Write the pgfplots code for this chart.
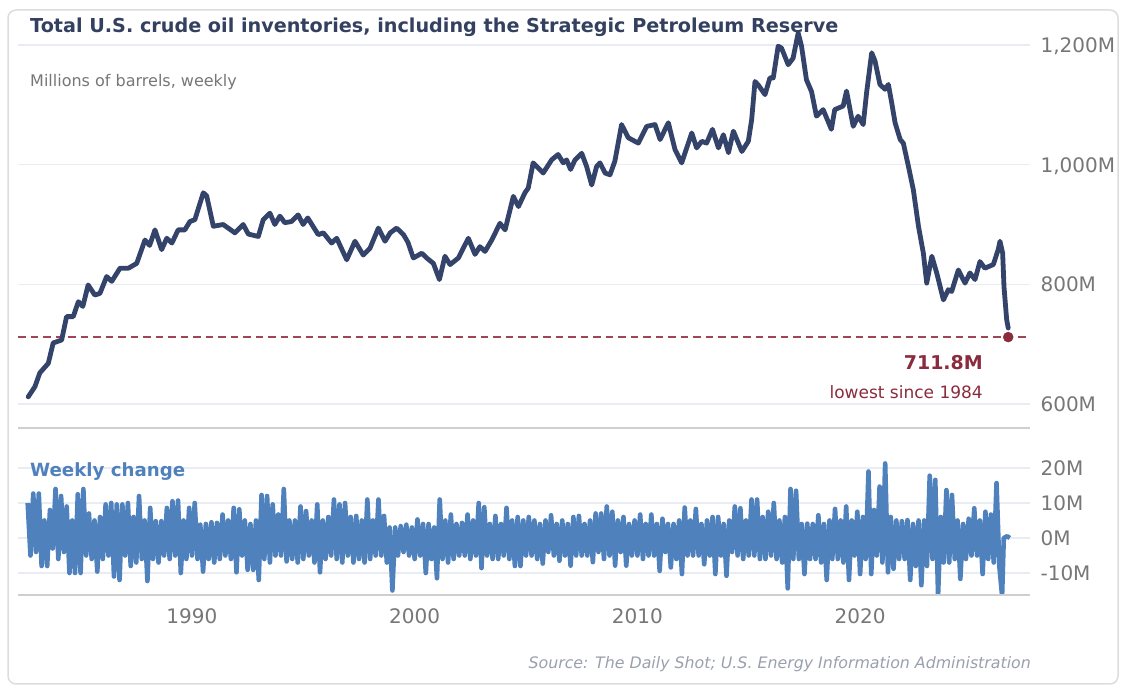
\documentclass[border=0pt]{standalone}
\usepackage{pgfplots}
\pgfplotsset{compat=1.18}
\usepackage{fontspec}
\setmainfont{DejaVu Sans}
\definecolor{navy}{HTML}{34436A}
\definecolor{titlec}{HTML}{344060}
\definecolor{graytxt}{HTML}{777777}
\definecolor{redc}{HTML}{8B2B3E}
\definecolor{redd}{HTML}{A04555}
\definecolor{bluec}{HTML}{4F81BD}
\definecolor{srcc}{HTML}{9AA0AE}
\definecolor{gridc}{HTML}{E9EDF3}
\definecolor{axc}{HTML}{CFCFCF}
\definecolor{cardc}{HTML}{DDDDDD}

\pgfplotstableread{
x y
1982.65 612
1982.95 629
1983.17 652
1983.55 668
1983.77 702
1984.15 707
1984.37 746
1984.67 746
1984.90 771
1985.10 763
1985.34 799
1985.64 782
1985.87 785
1986.17 813
1986.40 805
1986.77 827
1987.15 827
1987.52 835
1987.89 874
1988.10 865
1988.34 891
1988.64 858
1988.87 877
1989.10 869
1989.38 891
1989.68 891
1989.91 905
1990.13 908
1990.51 953
1990.66 948
1990.96 897
1991.40 900
1991.93 886
1992.30 900
1992.53 884
1992.98 880
1993.20 908
1993.50 919
1993.72 900
1993.95 914
1994.17 903
1994.47 905
1994.77 916
1994.99 900
1995.20 911
1995.67 883
1995.90 886
1996.27 869
1996.50 877
1996.95 841
1997.32 872
1997.69 849
1997.99 860
1998.37 894
1998.67 872
1998.90 886
1999.19 894
1999.50 883
1999.70 870
1999.94 844
2000.32 852
2000.54 844
2000.84 835
2001.11 808
2001.36 847
2001.59 833
2001.96 844
2002.41 877
2002.71 850
2002.93 863
2003.16 855
2003.46 874
2003.83 902
2004.06 891
2004.43 947
2004.66 930
2004.95 953
2005.10 961
2005.32 1003
2005.77 986
2006.15 1008
2006.44 1017
2006.67 1003
2006.82 1008
2007.00 992
2007.20 1008
2007.50 1019
2007.72 997
2007.95 966
2008.17 997
2008.32 1003
2008.55 986
2008.77 983
2008.99 1006
2009.29 1067
2009.59 1045
2010.04 1036
2010.42 1064
2010.79 1067
2011.02 1042
2011.39 1070
2011.69 1025
2011.99 1003
2012.44 1053
2012.66 1028
2012.89 1039
2013.11 1036
2013.37 1059
2013.64 1028
2013.86 1050
2014.09 1020
2014.31 1056
2014.69 1022
2014.98 1039
2015.13 1075
2015.28 1139
2015.43 1133
2015.73 1117
2015.95 1145
2016.10 1145
2016.32 1198
2016.47 1195
2016.77 1167
2016.99 1178
2017.22 1220
2017.37 1198
2017.59 1142
2017.82 1122
2018.04 1081
2018.34 1092
2018.71 1059
2018.86 1092
2019.24 1098
2019.39 1123
2019.69 1064
2019.91 1081
2020.14 1067
2020.29 1120
2020.52 1187
2020.67 1173
2020.89 1134
2021.12 1126
2021.27 1134
2021.42 1103
2021.57 1070
2021.80 1042
2021.94 1036
2022.17 997
2022.39 958
2022.62 897
2022.84 852
2022.99 802
2023.22 847
2023.44 819
2023.74 774
2023.96 791
2024.11 788
2024.41 824
2024.71 802
2024.93 819
2025.16 808
2025.38 838
2025.60 827
2025.98 833
2026.20 858
2026.28 872
2026.40 852
2026.46 796
2026.58 741
2026.65 727
}\levels

\pgfplotstableread{
x y
1982.625 10
1982.750 -5
1982.875 12.7
1983.000 -4
1983.125 12.7
1983.250 -8
1983.375 5
1983.500 -8
1983.625 8
1983.750 -3
1983.875 14
1984.000 -6
1984.125 12
1984.250 -4
1984.375 9
1984.500 -10
1984.625 5
1984.750 -10
1984.875 12.5
1985.000 -10
1985.125 14
1985.250 -5
1985.375 7
1985.500 -6
1985.625 5
1985.750 -9.6
1985.875 6
1986.000 -6
1986.125 9.6
1986.250 -5
1986.375 10
1986.500 -11
1986.625 9.6
1986.750 -12
1986.875 9.6
1987.000 -5
1987.125 10
1987.250 -8
1987.375 6
1987.500 -7
1987.625 12
1987.750 -6
1987.875 5
1988.000 -12.3
1988.125 8.6
1988.250 -6
1988.375 4.8
1988.500 -7
1988.625 4.8
1988.750 -5
1988.875 8.6
1989.000 -6
1989.125 10.5
1989.250 -5
1989.375 10.7
1989.500 -10
1989.625 5
1989.750 -6
1989.875 8.6
1990.000 -5
1990.125 10
1990.250 -6
1990.375 3.8
1990.500 -9.6
1990.625 4
1990.750 -6
1990.875 4.5
1991.000 -7
1991.125 4.3
1991.250 -6
1991.375 6.7
1991.500 -5
1991.625 5
1991.750 -6
1991.875 8.6
1992.000 -9.8
1992.125 8.2
1992.250 -5
1992.375 5
1992.500 -9.1
1992.625 4
1992.750 -9.1
1992.875 5
1993.000 -12
1993.125 12.3
1993.250 -6
1993.375 12
1993.500 -7
1993.625 9.6
1993.750 -5
1993.875 6.7
1994.000 -5
1994.125 14
1994.250 -6.7
1994.375 5
1994.500 -6
1994.625 5
1994.750 -7
1994.875 9
1995.000 -6
1995.125 7.7
1995.250 -5
1995.375 5
1995.500 -7
1995.625 9.6
1995.750 -9.8
1995.875 5
1996.000 -6
1996.125 6
1996.250 -5
1996.375 11
1996.500 -6
1996.625 9.6
1996.750 -7
1996.875 10
1997.000 -5
1997.125 6
1997.250 -7
1997.375 6.3
1997.500 -6
1997.625 5
1997.750 -7
1997.875 11
1998.000 -6
1998.125 5
1998.250 -5
1998.375 11
1998.500 -5
1998.625 6.3
1998.750 -7
1998.875 3
1999.000 -15
1999.125 3
1999.250 -5
1999.375 3.4
1999.500 -4
1999.625 3.8
1999.750 -5
1999.875 3
2000.000 -6
2000.125 5.3
2000.250 -5
2000.375 4
2000.500 -10
2000.625 4
2000.750 -6
2000.875 3
2001.000 -11.5
2001.125 11
2001.250 -6
2001.375 5
2001.500 -7
2001.625 6.7
2001.750 -6
2001.875 4
2002.000 -5
2002.125 4.3
2002.250 -5
2002.375 6.7
2002.500 -6
2002.625 5
2002.750 -5
2002.875 10
2003.000 -8.6
2003.125 8.8
2003.250 -5
2003.375 4
2003.500 -6
2003.625 6.3
2003.750 -6
2003.875 4
2004.000 -5
2004.125 8.6
2004.250 -6
2004.375 5
2004.500 -8
2004.625 6
2004.750 -8
2004.875 5
2005.000 -5
2005.125 6
2005.250 -5
2005.375 5
2005.500 -6
2005.625 4
2005.750 -7.3
2005.875 5
2006.000 -4
2006.125 6.5
2006.250 -5
2006.375 4
2006.500 -6.5
2006.625 5
2006.750 -5
2006.875 4
2007.000 -7.9
2007.125 6
2007.250 -5
2007.375 6.3
2007.500 -5
2007.625 4
2007.750 -5
2007.875 5
2008.000 -6.9
2008.125 7
2008.250 -4
2008.375 7
2008.500 -6
2008.625 9
2008.750 -5
2008.875 7.5
2009.000 -7.9
2009.125 5
2009.250 -4
2009.375 6
2009.500 -7.9
2009.625 4
2009.750 -5
2009.875 5
2010.000 -5
2010.125 6.7
2010.250 -6
2010.375 4
2010.500 -5
2010.625 6.7
2010.750 -5
2010.875 4
2011.000 -9.4
2011.125 5.5
2011.250 -4
2011.375 4
2011.500 -8.4
2011.625 4
2011.750 -6
2011.875 5
2012.000 -10.3
2012.125 8.7
2012.250 -5
2012.375 5
2012.500 -5
2012.625 8.3
2012.750 -5
2012.875 4
2013.000 -7.5
2013.125 5
2013.250 -5
2013.375 6
2013.500 -10.3
2013.625 6
2013.750 -5
2013.875 4
2014.000 -10.8
2014.125 5
2014.250 -4
2014.375 9
2014.500 -5
2014.625 8.5
2014.750 -6
2014.875 5
2015.000 -5
2015.125 11
2015.250 -5
2015.375 11
2015.500 -6
2015.625 6
2015.750 -6
2015.875 7.5
2016.000 -5
2016.125 10
2016.250 -6
2016.375 5
2016.500 -7
2016.625 6
2016.750 -14.4
2016.875 14
2017.000 -6
2017.125 13.5
2017.250 -6
2017.375 4
2017.500 -10.3
2017.625 4.1
2017.750 -6
2017.875 4
2018.000 -6
2018.125 6.5
2018.250 -7
2018.375 4
2018.500 -12
2018.625 5
2018.750 -6
2018.875 8.3
2019.000 -6
2019.125 5
2019.250 -7
2019.375 9
2019.500 -12
2019.625 5
2019.750 -5
2019.875 7.5
2020.000 -10.3
2020.125 6
2020.250 -6
2020.375 19
2020.500 -10.3
2020.625 8
2020.750 -5
2020.875 14.7
2021.000 -7
2021.125 21.3
2021.250 -9.8
2021.375 6
2021.500 -8.8
2021.625 5
2021.750 -6
2021.875 4.8
2022.000 -6
2022.125 5.1
2022.250 -12
2022.375 4
2022.500 -8
2022.625 5
2022.750 -13.5
2022.875 5
2023.000 -8
2023.125 17.8
2023.250 -6
2023.375 16.6
2023.500 -16.5
2023.625 6
2023.750 -7
2023.875 13.7
2024.000 -7
2024.125 12.3
2024.250 -6
2024.375 5
2024.500 -11.7
2024.625 4
2024.750 -6
2024.875 5.5
2025.000 -5
2025.125 8.5
2025.250 -5
2025.375 5
2025.500 -10.3
2025.625 7.5
2025.750 -6
2025.875 6.7
2026.000 -7
2026.125 15.7
2026.250 -8
2026.375 -16.5
2026.450 0
2026.600 0.5
2026.720 0
}\changes

\pgfplotsset{
  mybase/.style={
    scale only axis, anchor=south west,
    xmin=1982.19, xmax=2027.63,
    axis line style={draw=none},
    major tick length=0pt,
    tick style={draw=none},
    ymajorgrids,
    grid style={gridc, line width=1.2pt},
    yticklabel pos=right,
    yticklabel style={font=\fontsize{20}{24}\selectfont, text=graytxt, anchor=west, text depth=0pt, xshift=7pt},
    xticklabel style={font=\fontsize{20}{24}\selectfont, text=graytxt},
  }
}

\begin{document}
\begin{tikzpicture}
\path[fill=white] (0pt,0pt) rectangle (1126pt,700pt);
\draw[cardc, line width=1.5pt, rounded corners=8pt] (8pt,16pt) rectangle (1118pt,690pt);

\begin{axis}[mybase,
  at={(18pt,272pt)}, width=1012pt, height=418pt,
  ymin=559.9, ymax=1258.5,
  ytick={600,800,1000,1200},
  yticklabels={600M,800M,{1,000M},{1,200M}},
  xtick=\empty,
]
\addplot[redd, line width=1.8pt, dash pattern=on 7.5pt off 5pt] coordinates {(1982.19,711.8) (2027.63,711.8)};
\addplot[navy, line width=4.8pt, line join=round, line cap=round] table[x=x,y=y] {\levels};
\addplot[only marks, mark=*, mark size=5pt, mark options={fill=redc, draw=redc}] coordinates {(2026.65,711.8)};
\end{axis}

\begin{axis}[mybase,
  at={(18pt,105pt)}, width=1012pt, height=163pt,
  ymin=-16.29, ymax=30.29,
  ytick={-10,0,10,20},
  yticklabels={-10M,0M,10M,20M},
  xtick={1990,2000,2010,2020},
  xticklabels={1990,2000,2010,2020},
  xticklabel style={anchor=base, yshift=-29pt},
]
\addplot[bluec, line width=4.6pt, line join=round] table[x=x,y=y] {\changes};
\end{axis}

\draw[axc, line width=2pt] (18pt,272pt) -- (1030pt,272pt);
\draw[axc, line width=2pt] (18pt,105pt) -- (1030pt,105pt);

\node[anchor=base west, inner sep=0pt, text=titlec, font=\bfseries\fontsize{19.2}{23}\selectfont] at (30pt,667pt) {Total U.S. crude oil inventories, including the Strategic Petroleum Reserve};
\node[anchor=base west, inner sep=0pt, text=graytxt, font=\fontsize{16}{20}\selectfont] at (30pt,613pt) {Millions of barrels, weekly};
\node[anchor=base west, inner sep=0pt, text=bluec, font=\bfseries\fontsize{18.2}{22}\selectfont] at (30pt,223pt) {Weekly change};
\node[anchor=base east, inner sep=0pt, text=redc, font=\bfseries\fontsize{19}{23}\selectfont] at (983pt,330pt) {711.8M};
\node[anchor=base east, inner sep=0pt, text=redc, font=\fontsize{17}{20}\selectfont] at (983pt,301pt) {lowest since 1984};
\node[anchor=base east, inner sep=0pt, text=srcc, font=\itshape\fontsize{15.8}{19}\selectfont] at (1031pt,31pt) {Source: The Daily Shot; U.S. Energy Information Administration};
\end{tikzpicture}
\end{document}
